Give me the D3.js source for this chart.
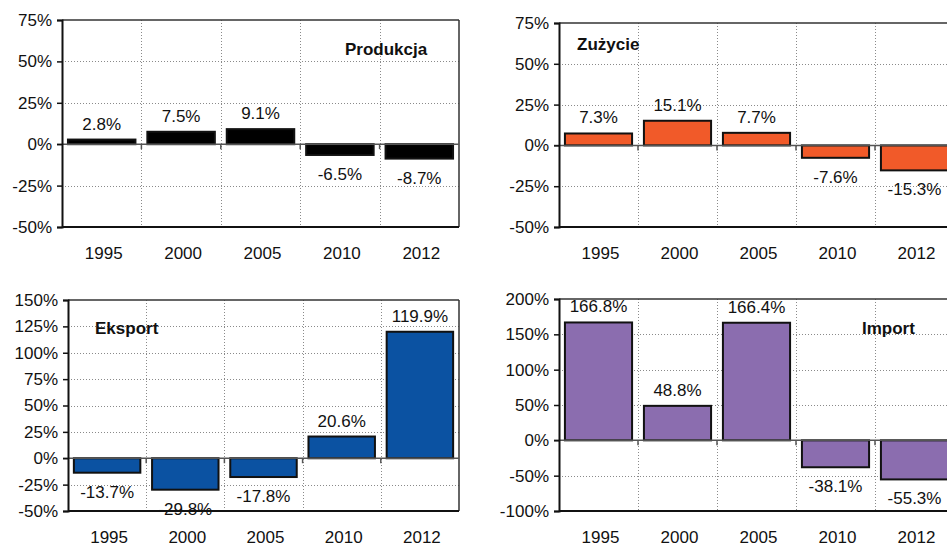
<!DOCTYPE html>
<html>
<head>
<meta charset="utf-8">
<script src="https://cdnjs.cloudflare.com/ajax/libs/d3/7.8.5/d3.min.js"></script>
<style>
  body { margin: 0; background: #fff; }
  text { font-family: "Liberation Sans", Arial, sans-serif; fill: #111; }
</style>
</head>
<body>
<div id="content"></div>
<script>
// data
var years = ["1995", "2000", "2005", "2010", "2012"];
var produkcja = [2.8, 7.5, 9.1, -6.5, -8.7];
var zuzycie = [7.3, 15.1, 7.7, -7.6, -15.3];
var eksport = [-13.7, -29.8, -17.8, 20.6, 119.9];
var imports = [166.8, 48.8, 166.4, -38.1, -55.3];

var ticksSmall = [-50, -25, 0, 25, 50, 75];
var ticksEksport = [-50, -25, 0, 25, 50, 75, 100, 125, 150];
var ticksImport = [-100, -50, 0, 50, 100, 150, 200];

var svg = d3.select('#content').append("svg")
  .attr("width", 947)
  .attr("height", 548);

// one panel per series
var panels = [
  {title: "Produkcja", values: produkcja, ticks: ticksSmall, color: "#000000",
   left: 62, right: 459, top: 20, bottom: 227, titleX: 345, titleY: 55},
  {title: "Zużycie", values: zuzycie, ticks: ticksSmall, color: "#f15a29",
   left: 559, right: 954, top: 23, bottom: 227, titleX: 577, titleY: 50},
  {title: "Eksport", values: eksport, ticks: ticksEksport, color: "#0b52a2",
   left: 68, right: 459, top: 300, bottom: 511, titleX: 95, titleY: 334},
  {title: "Import", values: imports, ticks: ticksImport, color: "#8b6daf",
   left: 559, right: 954, top: 299, bottom: 511, titleX: 862, titleY: 334}
];

// plain hyphen for negatives, like the original
function pct(d) { return d.toFixed(1) + "%"; }

panels.forEach(function(p) {
  var g = svg.append("g");

  var x = d3.scaleBand().domain(years).range([p.left, p.right]).paddingInner(0.15).paddingOuter(0.075);
  var y = d3.scaleLinear()
    .domain([p.ticks[0], p.ticks[p.ticks.length - 1]])
    .range([p.bottom, p.top]);

  var step = x.step();
  var bounds = years.slice(1).map(function(d) { return x(d) - step * x.paddingInner() / 2; });

  // dotted grid
  g.selectAll(".hgrid")
    .data(p.ticks.filter(function(t, i) { return t !== 0 && i > 0 && i < p.ticks.length - 1; }))
    .enter().append("line")
    .attr("x1", p.left).attr("x2", p.right)
    .attr("y1", function(d) { return Math.round(y(d)) + 0.5; })
    .attr("y2", function(d) { return Math.round(y(d)) + 0.5; })
    .attr("stroke", "#8a8a8a").attr("stroke-width", 1).attr("stroke-dasharray", "1,2");

  g.selectAll(".vgrid")
    .data(bounds)
    .enter().append("line")
    .attr("x1", function(d) { return Math.round(d) + 0.5; })
    .attr("x2", function(d) { return Math.round(d) + 0.5; })
    .attr("y1", p.top).attr("y2", p.bottom)
    .attr("stroke", "#8a8a8a").attr("stroke-width", 1).attr("stroke-dasharray", "1,2");

  // frame top/right
  g.append("line").attr("x1", p.left).attr("x2", p.right).attr("y1", p.top).attr("y2", p.top)
    .attr("stroke", "#333").attr("stroke-width", 1.5);
  g.append("line").attr("x1", p.right).attr("x2", p.right).attr("y1", p.top).attr("y2", p.bottom)
    .attr("stroke", "#333").attr("stroke-width", 1.5);

  // bars
  g.selectAll("rect")
    .data(p.values)
    .enter().append("rect")
    .attr("x", function(d, i) { return x(years[i]); })
    .attr("width", x.bandwidth())
    .attr("y", function(d) { return y(Math.max(0, d)); })
    .attr("height", function(d) { return Math.abs(y(d) - y(0)); })
    .attr("fill", p.color)
    .attr("stroke", "#111")
    .attr("stroke-width", 2);

  // zero line and its ticks
  g.append("line").attr("x1", p.left - 5).attr("x2", p.right).attr("y1", y(0)).attr("y2", y(0))
    .attr("stroke", "#555").attr("stroke-width", 1.5);
  g.selectAll(".zt")
    .data(bounds)
    .enter().append("line")
    .attr("x1", function(d) { return d; }).attr("x2", function(d) { return d; })
    .attr("y1", y(0)).attr("y2", y(0) + 5)
    .attr("stroke", "#555").attr("stroke-width", 1.5);

  // y axis
  var yAxis = d3.axisLeft(y).tickValues(p.ticks).tickSize(5).tickPadding(5)
    .tickFormat(function(d) { return d + "%"; });
  var ya = g.append("g").attr("transform", "translate(" + p.left + ",0)").call(yAxis);
  ya.select(".domain").attr("stroke", "#111").attr("stroke-width", 2);
  ya.selectAll(".tick line").attr("stroke", "#111").attr("stroke-width", 1.5);
  ya.selectAll(".tick text").attr("font-size", 17).attr("fill", "#111");

  // bottom frame
  g.append("line").attr("x1", p.left).attr("x2", p.right).attr("y1", p.bottom).attr("y2", p.bottom)
    .attr("stroke", "#111").attr("stroke-width", 2);

  // year labels
  g.selectAll(".yr")
    .data(years)
    .enter().append("text")
    .attr("x", function(d) { return x(d) + x.bandwidth() / 2 + 2; })
    .attr("y", p.bottom + 32)
    .attr("text-anchor", "middle")
    .attr("font-size", 17)
    .text(function(d) { return d; });

  // value labels
  g.selectAll(".val")
    .data(p.values)
    .enter().append("text")
    .attr("x", function(d, i) { return x(years[i]) + x.bandwidth() / 2; })
    .attr("y", function(d) { return d >= 0 ? y(d) - 10 : y(d) + 25; })
    .attr("text-anchor", "middle")
    .attr("font-size", 17)
    .text(function(d) { return pct(d); });

  // title
  g.append("text")
    .attr("x", p.titleX).attr("y", p.titleY)
    .attr("font-size", 17).attr("font-weight", "bold")
    .text(p.title);
});
</script>
</body>
</html>
